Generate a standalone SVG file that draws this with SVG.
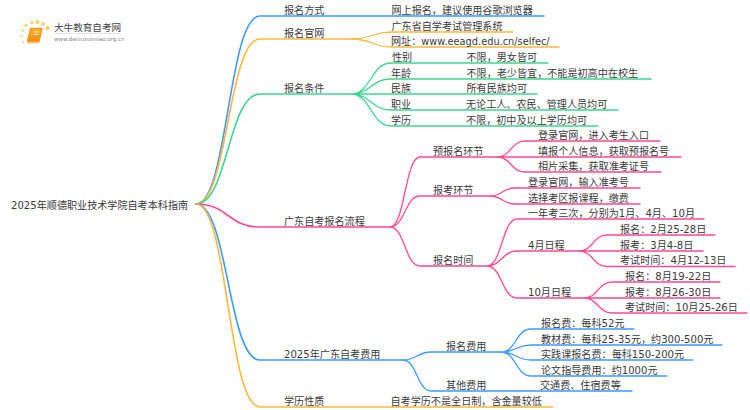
<svg xmlns="http://www.w3.org/2000/svg" width="750" height="410" viewBox="0 0 750 410">
<style>
text{font-family:"DejaVu Sans","Noto Sans CJK SC",sans-serif;font-size:10.1px;fill:#3a3a3a}
path{fill:none;stroke-width:1.3;stroke-linecap:round}
.b{stroke:#3d9bff}.o{stroke:#ffb83d}.g{stroke:#3ed492}.p{stroke:#ff4a94}
.t{stroke-width:1.6}
</style>
<defs><linearGradient id="bk" x1="0" y1="0" x2="0" y2="1"><stop offset="0" stop-color="#f9b233"/><stop offset="1" stop-color="#ee8a12"/></linearGradient></defs>
<rect width="750" height="410" fill="#fff"/>
<g id="logo">
<g fill="#fbd070"><circle cx="47.500" cy="28" r="2.200"/><circle cx="43" cy="24" r="2"/><circle cx="37.500" cy="22" r="2"/><circle cx="32" cy="22.500" r="1.800"/><circle cx="26" cy="25.500" r="1.500"/><circle cx="22.500" cy="30.500" r="1.300"/><circle cx="21.500" cy="36.500" r="1.100"/><circle cx="23" cy="42" r="1"/></g>
<path d="M30.500 28.500h11.500l-3 13H27.500z" style="fill:url(#bk);stroke:#f39a1e;stroke-linejoin:round"/>
<path d="M27.500 42.500h11" style="stroke:#f7b868"/>
<path d="M34 32h5M33.500 34.500h5" style="stroke:#fde2b0;stroke-width:1"/>
<text x="54" y="31" style="font-size:9.600px;fill:#444">大牛教育自考网</text>
<path d="M54 33.500H121" style="stroke:#ddd;stroke-width:.8"/>
<text x="54" y="41" style="font-size:5.500px;fill:#888">www.daniuxuexiao.org.cn</text>
</g>
<g id="connectors">
<path class="b t" d="M196 204C228 204 228 16 260 16H544"/>
<path class="o t" d="M196 204C228 204 228 39 260 39H352"/>
<path class="o" d="M352 39C372 39 372 32 392 32H513M352 39C372 39 372 47 392 47H559"/>
<path class="g t" d="M196 204C228 204 228 94 260 94H351"/>
<path class="g" d="M351 94C371 94 371 63 391 63H548M351 94C371 94 371 79 391 79H651M351 94H537M351 94C371 94 371 110 391 110H618M351 94C371 94 371 126 391 126H598"/>
<path class="p t" d="M196 204C228 204 228 227 260 227H390"/>
<path class="p" d="M390 227C405 227 405 157 420 157H497M390 227C405 227 405 196 420 196H490M390 227C405 227 405 266 420 266H487"/>
<path class="p" d="M497 157C511 157 511 141 525 141H660M497 157H681M497 157C511 157 511 172 525 172H661"/>
<path class="p" d="M490 196C502 196 503 188 515 188H640M490 196C502 196 503 204 515 204H640"/>
<path class="p" d="M487 266C502 266 502 219 517 219H704M487 266C502 266 502 251 517 251H579M487 266C502 266 502 298 517 298H584"/>
<path class="p" d="M579 251C593 251 593 235 607 235H715M579 251H703M579 251C593 251 593 266.500 607 266.500H735"/>
<path class="p" d="M584 298C598 298 598 282 612 282H720M584 298H720M584 298C598 298 598 313 612 313H747"/>
<path class="b t" d="M196 204C228 204 228 360 260 360H403"/>
<path class="b" d="M403 360C417 360 417 352 431 352H501M403 360C417 360 417 391 431 391H632"/>
<path class="b" d="M501 352C516 352 516 329 531 329H634M501 352C516 352 516 345 531 345H722M501 352C516 352 516 360 531 360H693M501 352C516 352 516 376 531 376H667"/>
<path class="o t" d="M196 204C228 204 228 407 260 407H553"/>
</g>
<g id="root"><text x="11" y="208.500">2025年顺德职业技术学院自考本科指南</text></g>
<g id="n1"><text x="284" y="13.500">报名方式</text></g>
<g id="n1-1"><text x="391.500" y="13.500">网上报名，建议使用谷歌浏览器</text></g>
<g id="n2"><text x="284" y="36.500">报名官网</text></g>
<g id="n2-1"><text x="391.500" y="29.500">广东省自学考试管理系统</text></g>
<g id="n2-2"><text x="391" y="44.500">网址：<tspan style="font-size:9.800px">www.eeagd.edu.cn/selfec/</tspan></text></g>
<g id="n3"><text x="284" y="91.500">报名条件</text></g>
<g id="n3-1"><text x="392" y="60.500">性别</text><text x="466.500" y="60.500">不限，男女皆可</text></g>
<g id="n3-2"><text x="391" y="76.500">年龄</text><text x="466.500" y="76.500">不限，老少皆宜，不能是初高中在校生</text></g>
<g id="n3-3"><text x="391" y="91.500">民族</text><text x="466.500" y="91.500">所有民族均可</text></g>
<g id="n3-4"><text x="391" y="107.500">职业</text><text x="466" y="107.500">无论工人、农民、管理人员均可</text></g>
<g id="n3-5"><text x="391" y="123.500">学历</text><text x="466" y="123.500">不限，初中及以上学历均可</text></g>
<g id="n4"><text x="284" y="224.500">广东自考报名流程</text></g>
<g id="n4-1"><text x="433" y="154.500">预报名环节</text></g>
<g id="n4-1-1"><text x="538" y="138.500">登录官网，进入考生入口</text></g>
<g id="n4-1-2"><text x="538" y="154.500">填报个人信息，获取预报名号</text></g>
<g id="n4-1-3"><text x="538" y="169.500">相片采集，获取准考证号</text></g>
<g id="n4-2"><text x="433" y="193.500">报考环节</text></g>
<g id="n4-2-1"><text x="528" y="185.500">登录官网，输入准考号</text></g>
<g id="n4-2-2"><text x="528" y="201.500">选择考区报课程，缴费</text></g>
<g id="n4-3"><text x="433" y="263.500">报名时间</text></g>
<g id="n4-3-1"><text x="528" y="216.500">一年考三次，分别为1月、4月、10月</text></g>
<g id="n4-3-2"><text x="528" y="248.500">4月日程</text></g>
<g id="n4-3-2-1"><text x="620" y="232.500">报名：2月25-28日</text></g>
<g id="n4-3-2-2"><text x="620" y="248.500">报考：3月4-8日</text></g>
<g id="n4-3-2-3"><text x="620" y="264">考试时间：4月12-13日</text></g>
<g id="n4-3-3"><text x="528" y="295.500">10月日程</text></g>
<g id="n4-3-3-1"><text x="625" y="279.500">报名：8月19-22日</text></g>
<g id="n4-3-3-2"><text x="625" y="295.500">报考：8月26-30日</text></g>
<g id="n4-3-3-3"><text x="625" y="310.500">考试时间：10月25-26日</text></g>
<g id="n5"><text x="284" y="357.500">2025年广东自考费用</text></g>
<g id="n5-1"><text x="446" y="349.500">报名费用</text></g>
<g id="n5-1-1"><text x="541" y="326.500">报名费：每科52元</text></g>
<g id="n5-1-2"><text x="541" y="342.500">教材费：每科25-35元，约300-500元</text></g>
<g id="n5-1-3"><text x="541" y="357.500">实践课报名费：每科150-200元</text></g>
<g id="n5-1-4"><text x="541" y="373.500">论文指导费用：约1000元</text></g>
<g id="n5-2"><text x="446" y="388.500">其他费用</text><text x="540" y="388.500">交通费、住宿费等</text></g>
<g id="n6"><text x="284" y="404.500">学历性质</text><text x="390.500" y="404.500">自考学历不是全日制，含金量较低</text></g>
</svg>
